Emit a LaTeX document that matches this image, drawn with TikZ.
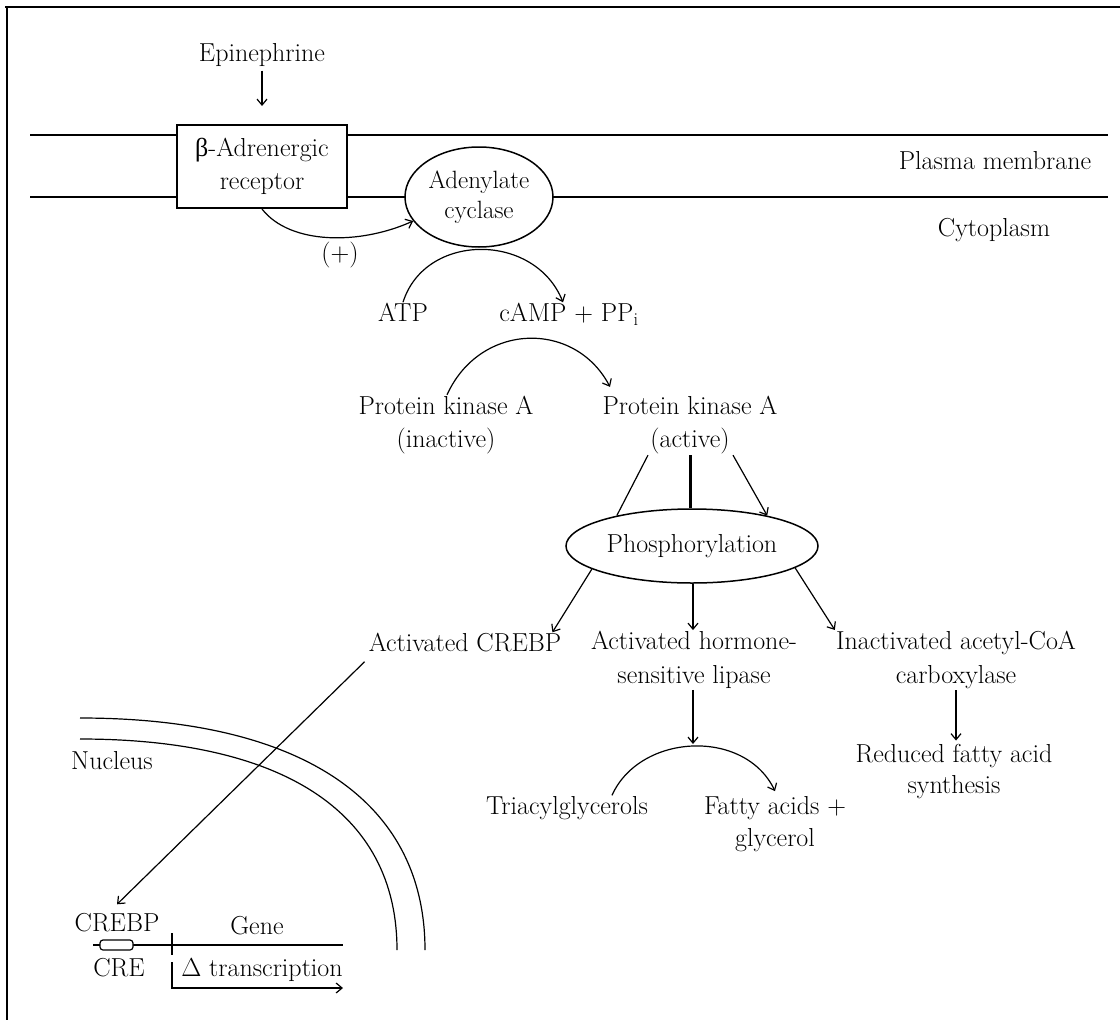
\RequirePackage{fix-cm}
\documentclass[tikz,border=0pt]{standalone}
\usepackage{fontspec}
\newfontfamily\gkfont{Liberation Serif}
\usetikzlibrary{arrows.meta,shapes.geometric}
\begin{document}
\begin{tikzpicture}[x=1pt,y=-1pt,
  txt/.style={font=\fontsize{26}{33}\selectfont, align=center, inner sep=1pt},
  one/.style={text height=18pt, text depth=5pt},
  arr/.style={-{Straight Barb[length=6pt,width=10pt]}, line width=1.2pt},
  ln/.style={line width=1.2pt},
  mem/.style={line width=2pt}]
\useasboundingbox (0,0) rectangle (1120,1020);
% frame
\draw[line width=2.2pt] (5,7) -- (1120,7);
\draw[line width=2.2pt] (7,7) -- (7,1020);
% membrane
\draw[mem] (30,135) -- (1108,135);
\draw[mem] (30,197) -- (1108,197);
% nodes
\node[txt,one] (epi) at (262,55) {Epinephrine};
\node[txt, draw, line width=2pt, fill=white, minimum width=170pt, minimum height=83pt] (rec) at (262,166.5) {{\gkfont\fontsize{26}{33}\selectfont β}-Adrenergic\\receptor};
\node[txt, ellipse, draw, line width=1.5pt, fill=white, minimum width=148pt, minimum height=100pt, inner xsep=-8pt, inner ysep=0pt, font=\fontsize{25}{30}\selectfont] (ac) at (479,197) {Adenylate\\cyclase};
\node[txt,one] (pm) at (995,163) {Plasma membrane};
\node[txt,one] (cyto) at (994,230) {Cytoplasm};
\node[txt,one] (plus) at (340,255) {(+)};
\node[txt,one] (atp) at (403,315) {ATP};
\node[txt,one] (camp) at (569,315) {cAMP + PP\textsubscript{i}};
\node[txt] (pkai) at (446,425) {Protein kinase A\\(inactive)};
\node[txt] (pkaa) at (690,425) {Protein kinase A\\(active)};
\node[txt, ellipse, draw, line width=1.5pt, minimum width=252pt, minimum height=74pt, inner xsep=-6pt, inner ysep=0pt] (phos) at (692,546) {Phosphorylation};
\node[txt,one] (cact) at (465,645) {Activated CREBP};
\node[txt, font=\fontsize{26}{34}\selectfont] (hsl) at (694,660) {Activated hormone-\\sensitive lipase};
\node[txt, font=\fontsize{26}{34}\selectfont] (acc) at (956,660) {Inactivated acetyl-CoA\\carboxylase};
\node[txt, font=\fontsize{26}{31}\selectfont] (red) at (954,772) {Reduced fatty acid\\synthesis};
\node[txt,one] (tag) at (567,808) {Triacylglycerols};
\node[txt, font=\fontsize{26}{32}\selectfont] (fa) at (775,824) {Fatty acids +\\glycerol};
\node[txt,one] (nuc) at (112,763) {Nucleus};
\node[txt,one] (crebp) at (117,925) {CREBP};
\node[txt,one] (gene) at (257,928) {Gene};
\node[txt,one] (cre) at (119,970) {CRE};
\node[txt,one] (trans) at (262,970) {$\Delta$ transcription};
\coordinate (lip) at (693,744);
% connectors
\draw[arr, shorten <=3pt, shorten >=18pt] (epi) -- (rec);
\draw[arr] (rec.south) .. controls (290,245) and (360,245) .. (ac.200);
\draw[arr] (atp.north) .. controls (425,232) and (535,232) .. ([xshift=-6pt]camp.north);
\draw[arr] ([xshift=1pt]pkai.north) .. controls (480,322) and (575,320) .. ([xshift=-80pt,yshift=8pt]pkaa.north);
\draw[ln] ([xshift=-42pt]pkaa.south) -- (phos.158);
\draw[line width=3pt] (pkaa.south) -- (pkaa.south |- phos.north);
\draw[arr] ([xshift=43pt]pkaa.south) -- (phos.22);
\draw[arr] (phos.193) -- ([xshift=-10pt]cact.north east);
\draw[arr] (phos.south -| lip) -- (hsl.north -| lip);
\draw[arr] (phos.348) -- (acc.north west);
\draw[arr, shorten >=3pt] (acc.south) -- (acc.south |- red.north);
\draw[arr] (hsl.south -| lip) -- (lip);
\draw[arr] ([xshift=45pt]tag.north) .. controls (640,733) and (745,728) .. ([yshift=4pt]fa.north);
\draw[arr] ([xshift=-3pt,yshift=-4pt]cact.south west) -- ([yshift=8pt]crebp.north);
% nucleus envelope
\draw[ln] (80,718) .. controls (300,718) and (425,800) .. (425,950);
\draw[ln] (80,739) .. controls (280,739) and (397,810) .. (397,950);
% gene
\draw[ln] (93,945) -- (343,945);
\draw[ln, rounded corners=3pt, fill=white] (100,940) rectangle (133,950);
\draw[ln] (172,933) -- (172,955);
\draw[arr] (172,962) |- (343,988);
\end{tikzpicture}
\end{document}
